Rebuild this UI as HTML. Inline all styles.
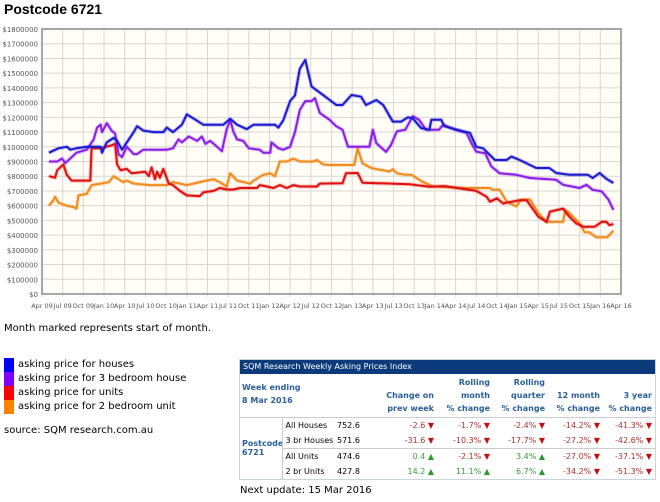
<!DOCTYPE html>
<html><head><meta charset="utf-8"><style>
body{margin:0;width:660px;height:502px;background:#fff;font-family:"DejaVu Sans","Liberation Sans",sans-serif;position:relative;overflow:hidden}
.a{position:absolute;white-space:nowrap}
table{border-collapse:collapse;font-size:8px;table-layout:fixed;width:415px}
td{padding:0 3px;height:15px;white-space:nowrap;overflow:hidden}
.h td{color:#2a5f9a;font-weight:bold;text-align:right;vertical-align:bottom;line-height:13px;padding-bottom:2px}
.r{color:#b03030;text-align:right}.g{color:#3a9a3a;text-align:right}
.dn::after{content:" ▼";color:#c01010}.up::after{content:" ▲";color:#2a9a2a}
</style></head><body>
<div class="a" style="left:4px;top:1px;font-family:'Liberation Sans',sans-serif;font-weight:bold;font-size:14px">Postcode 6721</div>
<svg class="a" style="left:0;top:0" width="660" height="320">
<g id="grid"></g><g id="lines"></g><g id="labels"></g>
</svg>
<div class="a" style="left:4px;top:323px;font-size:10px">Month marked represents start of month.</div>
<div class="a" style="left:4px;top:358px;font-size:10px;line-height:14px">
<div><span style="display:inline-block;width:10px;height:14px;background:#0000ff;vertical-align:top;margin-right:4px"></span>asking price for houses</div>
<div><span style="display:inline-block;width:10px;height:14px;background:#8000ff;vertical-align:top;margin-right:4px"></span>asking price for 3 bedroom house</div>
<div><span style="display:inline-block;width:10px;height:14px;background:#ff0000;vertical-align:top;margin-right:4px"></span>asking price for units</div>
<div><span style="display:inline-block;width:10px;height:14px;background:#ff8000;vertical-align:top;margin-right:4px"></span>asking price for 2 bedroom unit</div>
</div>
<div class="a" style="left:4px;top:425px;font-size:10px">source: SQM research.com.au</div>
<div class="a" style="left:239px;top:359px;width:417px;border:1px solid #c8d4e0;box-sizing:border-box">
<div style="background:#0b3a7a;color:#fff;font-size:8px;height:14px;line-height:14px;padding-left:3px">SQM Research Weekly Asking Prices Index</div>
<table>
<colgroup><col style="width:42px"><col style="width:54px"><col style="width:28px"><col style="width:73px"><col style="width:56px"><col style="width:55px"><col style="width:55px"><col style="width:52px"></colgroup>
<tr class="h" style="height:43px;border-bottom:1px solid #ccc"><td colspan="3" style="text-align:left;vertical-align:middle;padding-left:2px">Week ending<br>8 Mar 2016</td><td>Change on<br>prev week</td><td>Rolling<br>month<br>% change</td><td>Rolling<br>quarter<br>% change</td><td>12 month<br>% change</td><td>3 year<br>% change</td></tr>
<tr><td rowspan="4" style="color:#2a5f9a;font-weight:bold;border-right:1px solid #ccc;padding-left:2px">Postcode<br>6721</td><td style="padding:0 1px 0 3px">All Houses</td><td style="padding:0 1px">752.6</td><td class="r dn">-2.6</td><td class="r dn">-1.7%</td><td class="r dn">-2.4%</td><td class="r dn">-14.2%</td><td class="r dn">-41.3%</td></tr>
<tr><td style="padding:0 1px 0 3px">3 br Houses</td><td style="padding:0 1px">571.6</td><td class="r dn">-31.6</td><td class="r dn">-10.3%</td><td class="r dn">-17.7%</td><td class="r dn">-27.2%</td><td class="r dn">-42.6%</td></tr>
<tr style="border-top:1px solid #ccc"><td style="padding:0 1px 0 3px">All Units</td><td style="padding:0 1px">474.6</td><td class="g up">0.4</td><td class="r dn">-2.1%</td><td class="g up">3.4%</td><td class="r dn">-27.0%</td><td class="r dn">-37.1%</td></tr>
<tr><td style="padding:0 1px 0 3px">2 br Units</td><td style="padding:0 1px">427.8</td><td class="g up">14.2</td><td class="g up">11.1%</td><td class="g up">6.7%</td><td class="r dn">-34.2%</td><td class="r dn">-51.3%</td></tr>
</table></div>
<div class="a" style="left:240px;top:485px;font-size:10px">Next update: 15 Mar 2016</div>
<script>
const xTickLabels=["Apr 09","Jul 09","Oct 09","Jan 10","Apr 10","Jul 10","Oct 10","Jan 11","Apr 11","Jul 11","Oct 11","Jan 12","Apr 12","Jul 12","Oct 12","Jan 13","Apr 13","Jul 13","Oct 13","Jan 14","Apr 14","Jul 14","Oct 14","Jan 15","Apr 15","Jul 15","Oct 15","Jan 16","Apr 16"];
const yTicks=[0,100000,200000,300000,400000,500000,600000,700000,800000,900000,1000000,1100000,1200000,1300000,1400000,1500000,1600000,1700000,1800000];
// months since Apr 09, values in $k
const housesM=[1,2.4,3.6,4.1,5,6.5,8.5,8.7,9.4,10.4,10.9,11.6,13.3,13.8,14.7,16.2,17.6,18.1,19,20.3,21,21.7,23.4,26.3,27.3,28.3,29.7,30.7,33.8,34.3,35,36,36.7,37.4,38.2,39.1,41.1,42.7,43.6,44.9,46.3,47,48.5,49.5,50.9,52.1,53.1,53.8,55,56.2,56.5,57.9,58.4,61.1,62.1,63,64,65.7,67.4,68.1,69.3,71.7,73.6,74.6,76.5,79.2,79.9,80.9,81.9,82.9];
const housesV=[960,990,1000,980,990,1000,1000,960,1030,1060,1040,980,1100,1140,1110,1100,1100,1130,1100,1150,1220,1200,1150,1150,1190,1150,1120,1150,1150,1130,1180,1310,1350,1530,1590,1410,1340,1284,1284,1352,1340,1284,1318,1284,1171,1171,1200,1193,1127,1116,1184,1184,1139,1105,1094,1000,990,910,910,933,910,856,856,822,810,810,788,822,782,754];
const br3M=[1,2.2,2.9,3.4,5,6.5,7.5,8,8.5,8.7,9.4,10.1,10.6,11.1,11.6,12.3,13.3,13.8,14.7,18.1,19,19.8,20.3,21.3,22.5,23.2,23.7,24.4,25.4,26.1,26.8,27.3,27.8,28.3,29.2,30,31.6,32.1,33.1,33.3,34.3,35,36,36.7,37.4,38.2,39.1,39.6,40.3,41.7,42.7,43.6,44.4,47.5,48,48.5,49.9,50.6,51.5,52.7,53.8,54.7,55.7,57.6,58.2,59.9,61.6,62.3,63,64.3,65.2,66.4,68.8,70.8,74.6,75.6,78,79,79.9,81.2,82.2,82.9];
const br3V=[900,900,920,890,960,980,1050,1130,1150,1100,1160,1110,1090,950,930,1000,950,950,980,980,990,1050,1030,1070,1040,1070,1020,1040,1000,970,1120,1180,1100,1050,1040,990,980,960,960,1030,990,980,1000,1100,1250,1310,1310,1330,1230,1184,1139,1116,1000,1000,1116,1025,965,1010,1105,1116,1207,1184,1116,1116,1150,1116,1094,1025,967,956,866,820,810,788,776,742,720,742,708,697,640,571];
const unitsM=[1,1.9,2.2,3.1,3.6,4.3,7,7.2,8.5,10.1,10.6,10.9,11.4,12.3,13,15,15.5,15.9,16.4,16.7,17.1,17.6,18.4,19,20,21,22.9,23.4,24.9,25.8,26.8,27.8,28.7,31.2,31.6,32.6,33.6,34.5,35.5,36.5,37.4,39.9,40.3,43.6,44.1,45.8,46.5,53.3,56.2,58.4,63,64.5,65,66,66.9,67.4,69.3,70.3,72,73.2,73.7,75.6,76.5,77.5,78.5,80.2,81.2,81.9,82.3,82.9];
const unitsV=[800,790,840,880,810,770,770,990,990,1010,1020,880,840,850,820,830,800,860,780,830,790,850,750,740,700,670,665,690,700,720,710,710,720,720,740,730,720,740,720,740,730,730,750,752,820,822,756,746,729,733,700,660,627,650,615,620,637,637,525,490,560,580,525,480,457,457,490,490,468,475];
const br2M=[1,1.7,1.9,2.4,3.6,4.6,5,5.3,6.5,7.2,8.5,9.7,10.4,11.1,11.8,12.3,13.3,15.7,18.1,19,21,22.9,24.9,25.8,26.8,27.3,28.3,30.2,30.7,32.1,33.1,33.8,34.5,35.5,36.5,37.4,39.4,39.9,40.8,41.7,45.3,45.8,46.5,47.8,50.4,50.9,51.5,52.7,53.6,55.1,56.8,61.1,65,65.4,66.4,67.4,68.8,69.5,70.8,72,73.2,75.6,75.9,76.5,78,78.7,79.4,80.4,82,82.9];
const br2V=[600,640,660,620,600,590,580,670,680,740,750,760,800,780,760,770,750,740,740,760,740,760,780,760,730,820,770,750,770,810,820,800,900,900,920,900,900,910,880,876,876,990,888,855,832,848,820,810,810,765,730,720,720,708,708,628,595,640,642,550,490,490,570,550,480,420,420,385,385,430];
const L=42,R=621,T=29,B=294,NS="http://www.w3.org/2000/svg";
const xS=m=>L+m*(R-L)/84, yS=v=>B-v*(B-T)/1800000;
function mk(tag,attrs,parent){const e=document.createElementNS(NS,tag);for(const k in attrs)e.setAttribute(k,attrs[k]);parent.appendChild(e);return e;}
const grid=document.getElementById('grid'),lines=document.getElementById('lines'),labels=document.getElementById('labels');
const bg=mk('rect',{x:L,y:T,width:R-L,height:B-T,fill:'#fffdf5',stroke:'#999','stroke-width':1.5},grid);


yTicks.forEach(v=>{const y=yS(v);
 const g=mk('line',{x1:L,x2:R,y1:y,y2:y,stroke:'#d8d8d0','stroke-width':1},grid);
 
 
 const t=mk('text',{x:L-4,y:y+3,'text-anchor':'end','font-size':7,fill:'#555','font-family':'DejaVu Sans,sans-serif'},labels);
 t.textContent='$'+v;
 
 });
xTickLabels.forEach((s,i)=>{const x=xS(i*3);
 const g=mk('line',{x1:x,x2:x,y1:T,y2:B+3,stroke:'#d8d8d0','stroke-width':1},grid);
 
 
 const t=mk('text',{x:x,y:B+14,'text-anchor':'middle','font-size':6.5,fill:'#555','font-family':'DejaVu Sans,sans-serif'},labels);
 t.textContent=s;
 
 });
mk('rect',{x:L,y:T,width:R-L,height:B-T,fill:'none',stroke:'#999','stroke-width':1.5},grid);
[[br2M,br2V,'#f08c1e','series-2br-unit'],[unitsM,unitsV,'#e01010','series-units'],[br3M,br3V,'#8a1ee8','series-3br-house'],[housesM,housesV,'#1a1ad0','series-houses']].forEach(([ms,vs,c,n])=>{
 const d=ms.map((m,i)=>(i?'L':'M')+xS(m).toFixed(1)+','+yS(vs[i]*1000).toFixed(1)).join('');
 mk('path',{d:d,fill:'none',stroke:c,'stroke-opacity':0.25,'stroke-width':4,'stroke-linejoin':'round'},lines);
 const p=mk('path',{d:d,fill:'none',stroke:c,'stroke-width':2,'stroke-linejoin':'round'},lines);
 
 });
</script>
</body></html>
